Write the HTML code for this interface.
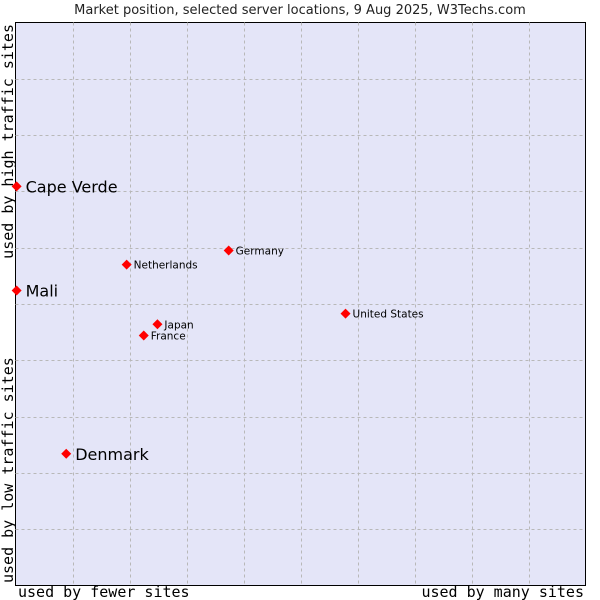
<!DOCTYPE html>
<html><head><meta charset="utf-8"><style>body{margin:0;background:#fff}svg{display:block}</style></head><body>
<svg id="chart" width="600" height="600" xmlns="http://www.w3.org/2000/svg">
<text x="300" y="14" text-anchor="middle" font-family="DejaVu Sans, sans-serif" font-size="13" fill="#222">Market position, selected server locations, 9 Aug 2025, W3Techs.com</text>
<rect x="15.5" y="22.5" width="570" height="563" fill="#e4e5f8" stroke="#000" stroke-width="1"/>
<g id="grid"></g>
<g id="points"></g>
<text x="18" y="597" font-family="DejaVu Sans Mono, monospace" font-size="15" fill="#000">used by fewer sites</text>
<text x="584" y="597" text-anchor="end" font-family="DejaVu Sans Mono, monospace" font-size="15" fill="#000">used by many sites</text>
<text transform="translate(13,24) rotate(-90)" text-anchor="end" font-family="DejaVu Sans Mono, monospace" font-size="15" fill="#000">used by high traffic sites</text>
<text transform="translate(13,583) rotate(-90)" font-family="DejaVu Sans Mono, monospace" font-size="15" fill="#000">used by low traffic sites</text>
</svg>
<script>
const names=["Cape Verde","Mali","Denmark","Netherlands","Germany","United States","Japan","France"];
const xVals=[0.2,0.2,8.9,19.5,37.4,57.9,24.9,22.5];
const yVals=[70.9,52.4,23.4,57.0,59.5,48.3,46.4,44.4];
const highlighted=[true,true,true,false,false,false,false,false];
const gridTicks=[10,20,30,40,50,60,70,80,90];
const NS="http://www.w3.org/2000/svg";
const X0=15.5,X1=585.5,Y0=585.5,Y1=22.5;
const sx=v=>X0+(X1-X0)*v/100, sy=v=>Y0-(Y0-Y1)*v/100;
const grid=document.getElementById('grid'),pts=document.getElementById('points');
gridTicks.forEach(t=>{
 let l=document.createElementNS(NS,'line');
 
 
 l.setAttribute('x1',Math.round(sx(t))+0.5);l.setAttribute('x2',Math.round(sx(t))+0.5);l.setAttribute('y1',Y1);l.setAttribute('y2',Y0);
 l.setAttribute('stroke','#b8b8b8');l.setAttribute('stroke-dasharray','3,3');grid.appendChild(l);
 let h=document.createElementNS(NS,'line');
 
 
 h.setAttribute('y1',Math.round(sy(t))+0.5);h.setAttribute('y2',Math.round(sy(t))+0.5);h.setAttribute('x1',X0);h.setAttribute('x2',X1);
 h.setAttribute('stroke','#b8b8b8');h.setAttribute('stroke-dasharray','3,3');grid.appendChild(h);
});
names.forEach((n,i)=>{
 const x=sx(xVals[i]),y=sy(yVals[i]);
 let d=document.createElementNS(NS,'path');
 
 
 d.setAttribute('d',`M${x} ${y-5}L${x+5} ${y}L${x} ${y+5}L${x-5} ${y}Z`);
 d.setAttribute('fill','#f00');pts.appendChild(d);
 let t=document.createElementNS(NS,'text');
 
 
 const big=highlighted[i];
 t.setAttribute('x',x+(big?9:7));t.setAttribute('y',y+(big?6:4));
 t.setAttribute('font-family','DejaVu Sans, sans-serif');t.setAttribute('font-size',big?16:10.5);t.setAttribute('fill','#000');
 t.textContent=n;pts.appendChild(t);
});
</script>
</body></html>
